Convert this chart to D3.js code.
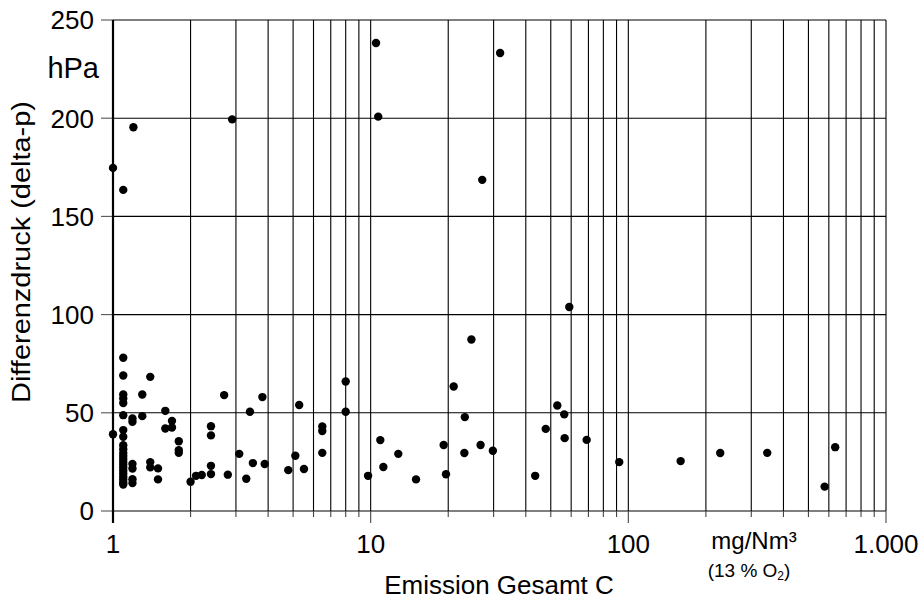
<!DOCTYPE html>
<html><head><meta charset="utf-8">
<script src="https://cdn.jsdelivr.net/npm/d3@7"></script>
<style>body{margin:0;background:#fff}text{font-family:"Liberation Sans",Arial,sans-serif;fill:#000}</style>
</head><body>
<svg id="c" width="922" height="601"></svg>
<script>
// Emission Gesamt C (mg/Nm³) values
const emission = [
  1.0, 1.0,
  1.096,1.096,1.096,1.096,1.096,1.096,1.096,1.096,1.096,
  1.096,1.096,1.096,1.096,1.096,1.096,1.096,1.096,1.096,1.096,1.096,1.096,1.096,1.096,
  1.2,1.19,1.19,1.19,1.19,1.19,1.19,
  1.299,1.299,1.395,1.395,1.395,1.495,1.495,1.596,1.596,1.694,1.694,
  1.8,1.8,1.8,2.0,2.1,2.21,2.4,2.4,2.4,2.4,2.7,2.79,2.9,3.09,3.29,3.4,3.49,3.8,3.88,
  4.79,5.1,5.28,5.51,6.49,6.49,6.49,8.0,8.0,9.77,
  10.49,10.7,10.9,11.2,12.8,15.0,19.2,19.6,21.0,23.1,23.2,24.6,26.7,27.1,29.8,31.8,
  43.5,47.8,53.0,56.4,56.6,59.0,68.9,92.2,159.6,227.3,346,578,635
];
// Differenzdruck (hPa) values
const deltaP = [
  174.7, 39.1,
  163.5,78,69,59.3,57.3,55,48.8,41.2,37.8,
  33.5,31.5,29.5,28,26.5,25,23.5,22,20.5,19,17.5,16,14.5,13.5,
  195.4,47.1,45.4,24,21.6,16.2,14.2,
  59.3,48.3,68.3,24.9,22.2,21.7,16.1,51,42,45.9,42.5,
  35.5,31,29.6,14.9,17.9,18.3,43.2,38.5,23,18.8,59,18.5,199.4,29.1,16.4,50.5,24.4,58,23.9,
  20.8,28.1,54,21.4,43,40.7,29.6,65.9,50.5,17.9,
  238.3,200.8,36.1,22.4,29.1,16.1,33.6,18.7,63.4,29.5,47.8,87.3,33.6,168.6,30.7,233.2,
  17.9,41.8,53.7,49.2,37.1,103.9,36.2,24.9,25.4,29.5,29.6,12.4,32.5
];
const yTicks = [0, 50, 100, 150, 200, 250];
const xMajor = [1, 10, 100, 1000];
const xMajorLabels = ["1", "10", "100", "1.000"];

const svg = d3.select("#c");
const L = 113, R = 886, T = 20, B = 511;
const x = d3.scaleLog().domain([1, 1000]).range([L, R]);
const y = d3.scaleLinear().domain([0, 250]).range([B, T]);

// minor positions
const xMinor = [];
for (let d = 1; d < 1000; d *= 10) for (let k = 1; k <= 9; k++) xMinor.push(d * k);
xMinor.push(1000);

const g = svg.append("g");
// vertical grid
g.selectAll(".vg").data(xMinor).join("line")
  .attr("x1", d => x(d)).attr("x2", d => x(d))
  .attr("y1", T).attr("y2", B)
  .attr("stroke", "#000").attr("stroke-width", 1.1);
// horizontal grid
g.selectAll(".hg").data(yTicks).join("line")
  .attr("x1", L).attr("x2", R)
  .attr("y1", d => y(d)).attr("y2", d => y(d))
  .attr("stroke", "#000").attr("stroke-width", 1.1);

// x ticks below axis
g.selectAll(".xt").data(xMinor).join("line")
  .attr("x1", d => x(d)).attr("x2", d => x(d))
  .attr("y1", B).attr("y2", d => xMajor.includes(d) ? B + 12 : B + 6)
  .attr("stroke", "#444").attr("stroke-width", 1.1);
// y ticks
g.selectAll(".yt").data(yTicks).join("line")
  .attr("x1", L - 12).attr("x2", L)
  .attr("y1", d => y(d)).attr("y2", d => y(d))
  .attr("stroke", "#555").attr("stroke-width", 1.1);
// y axis line thick
g.append("line").attr("x1", L).attr("x2", L).attr("y1", T).attr("y2", B + 12)
  .attr("stroke", "#000").attr("stroke-width", 2.2);

// y tick labels
g.selectAll(".yl").data(yTicks).join("text")
  .attr("x", 94).attr("y", d => y(d)).attr("dy", "0.36em")
  .attr("text-anchor", "end").attr("font-size", 26).text(d => d);
// x tick labels
g.selectAll(".xl").data(xMajor).join("text")
  .attr("x", d => x(d)).attr("y", 553)
  .attr("text-anchor", "middle").attr("font-size", 26)
  .text((d, i) => xMajorLabels[i]);

// units & titles
svg.append("text").attr("x", 99).attr("y", 78).attr("text-anchor", "end")
  .attr("font-size", 29).text("hPa");
svg.append("text").attr("transform", "translate(30,252) rotate(-90)")
  .attr("text-anchor", "middle").attr("font-size", 26)
  .attr("textLength", 302).attr("lengthAdjust", "spacingAndGlyphs")
  .text("Differenzdruck (delta-p)");
svg.append("text").attr("x", 499).attr("y", 594).attr("text-anchor", "middle")
  .attr("font-size", 26).text("Emission Gesamt C");
svg.append("text").attr("x", 754).attr("y", 549).attr("text-anchor", "middle")
  .attr("font-size", 24).text("mg/Nm³");
const t2 = svg.append("text").attr("x", 749).attr("y", 577).attr("text-anchor", "middle")
  .attr("font-size", 19);
t2.append("tspan").text("(13 % O");
t2.append("tspan").attr("font-size", 12).attr("dy", 3).text("2");
t2.append("tspan").attr("dy", -3).text(")");

// points
const pts = emission.map((e, i) => ({e, p: deltaP[i]}));
svg.append("g").selectAll("circle").data(pts).join("circle")
  .attr("cx", d => x(d.e)).attr("cy", d => y(d.p)).attr("r", 4.2).attr("fill", "#000");
</script>
</body></html>
